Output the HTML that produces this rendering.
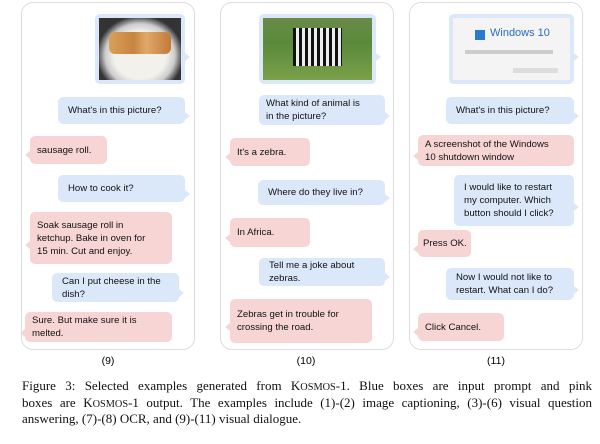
<!DOCTYPE html><html><head><style>
body{margin:0;width:600px;height:444px;background:#fff;position:relative;overflow:hidden;font-family:"Liberation Sans",sans-serif}
.p{position:absolute;top:2px;height:346px;border:1px solid #ddd;border-radius:12px;background:#fff}
.b{position:absolute;border-radius:5px;font-size:9.6px;line-height:13px;color:#111;padding:0 7px;box-sizing:border-box;display:flex;align-items:center;white-space:nowrap}
.u{background:#dbe8fa}.r{background:#f7d5d5}
.u:after{content:"";position:absolute;right:-5px;top:55%;border:4px solid transparent;border-left:5px solid #dbe8fa;border-right:0}
.r:after{content:"";position:absolute;left:-5px;top:55%;border:4px solid transparent;border-right:5px solid #f7d5d5;border-left:0}
.l{position:absolute;top:355px;font-size:10.5px;width:60px;text-align:center}
.cap{position:absolute;left:22px;top:379px;width:570px;font-family:"Liberation Serif",serif;font-size:13px;line-height:14.5px;color:#111}
.cap div{text-align:justify;text-align-last:justify;white-space:nowrap}
.cap div.last{text-align-last:left}
.sc{font-size:10.3px}
</style></head><body>
<div class="p" style="left:21px;width:172px"></div>
<div class="p" style="left:220px;width:172px"></div>
<div class="p" style="left:409px;width:172px"></div>

<div class="b u" style="left:95px;top:14px;width:90px;height:70px;padding:4px"><div style="width:100%;height:100%;background:radial-gradient(ellipse at 50% 60%,#f3f1ec 45%,#ccc 60%,#333 75%)"><div style="margin:14px 10px;height:22px;background:linear-gradient(90deg,#d9a05a,#c88440 40%,#e0a868 60%,#c27a3a);border-radius:6px"></div></div></div>
<div class="b u" style="left:58px;top:97px;width:127px;height:27px;padding-left:10px">What's in this picture?</div>
<div class="b r" style="left:30px;top:136px;width:77px;height:28px">sausage roll.</div>
<div class="b u" style="left:58px;top:175px;width:127px;height:27px;padding-left:10px">How to cook it?</div>
<div class="b r" style="left:30px;top:212px;width:142px;height:52px">Soak sausage roll in<br>ketchup. Bake in oven for<br>15 min. Cut and enjoy.</div>
<div class="b u" style="left:52px;top:273px;width:127px;height:29px;padding-left:10px">Can I put cheese in the<br>dish?</div>
<div class="b r" style="left:25px;top:312px;width:147px;height:30px">Sure. But make sure it is<br>melted.</div>

<div class="b u" style="left:259px;top:14px;width:117px;height:70px;padding:4px"><div style="width:100%;height:100%;background:linear-gradient(#6a8a4a,#5a8a3a 40%,#7aa04a)"><div style="margin:10px 30px;height:38px;background:repeating-linear-gradient(90deg,#111 0 3px,#eee 3px 6px)"></div></div></div>
<div class="b u" style="left:259px;top:95px;width:126px;height:30px">What kind of animal is<br>in the picture?</div>
<div class="b r" style="left:230px;top:138px;width:80px;height:28px">It's a zebra.</div>
<div class="b u" style="left:258px;top:180px;width:127px;height:25px;padding-left:10px">Where do they live in?</div>
<div class="b r" style="left:230px;top:218px;width:80px;height:29px">In Africa.</div>
<div class="b u" style="left:259px;top:258px;width:126px;height:28px;padding-left:10px">Tell me a joke about<br>zebras.</div>
<div class="b r" style="left:230px;top:299px;width:142px;height:44px">Zebras get in trouble for<br>crossing the road.</div>

<div class="b u" style="left:449px;top:14px;width:125px;height:70px;padding:4px"><div style="width:100%;height:100%;background:#f4f4f4;position:relative;font-size:11px;color:#2a6ac0"><span style="position:absolute;left:22px;top:12px;width:10px;height:10px;background:#2a7ad0"></span><span style="position:absolute;left:37px;top:9px">Windows 10</span><span style="position:absolute;left:12px;top:32px;width:88px;height:4px;background:#ccc"></span><span style="position:absolute;left:60px;top:50px;width:45px;height:5px;background:#ddd"></span></div></div>
<div class="b u" style="left:446px;top:97px;width:128px;height:27px;padding-left:10px">What's in this picture?</div>
<div class="b r" style="left:418px;top:135px;width:156px;height:31px">A screenshot of the Windows<br>10 shutdown window</div>
<div class="b u" style="left:454px;top:175px;width:120px;height:51px;padding-left:10px">I would like to restart<br>my computer. Which<br>button should I click?</div>
<div class="b r" style="left:418px;top:230px;width:53px;height:27px;padding:0 5px">Press OK.</div>
<div class="b u" style="left:446px;top:268px;width:128px;height:32px;padding-left:10px">Now I would not like to<br>restart. What can I do?</div>
<div class="b r" style="left:418px;top:313px;width:86px;height:28px">Click Cancel.</div>

<div class="l" style="left:78px">(9)</div>
<div class="l" style="left:276px">(10)</div>
<div class="l" style="left:466px">(11)</div>
<div class="cap">
<div>Figure 3: Selected examples generated from K<span class="sc">OSMOS</span>-1. Blue boxes are input prompt and pink</div>
<div>boxes are K<span class="sc">OSMOS</span>-1 output. The examples include (1)-(2) image captioning, (3)-(6) visual question</div>
<div class="last">answering, (7)-(8) OCR, and (9)-(11) visual dialogue.</div>
</div>
</body></html>
